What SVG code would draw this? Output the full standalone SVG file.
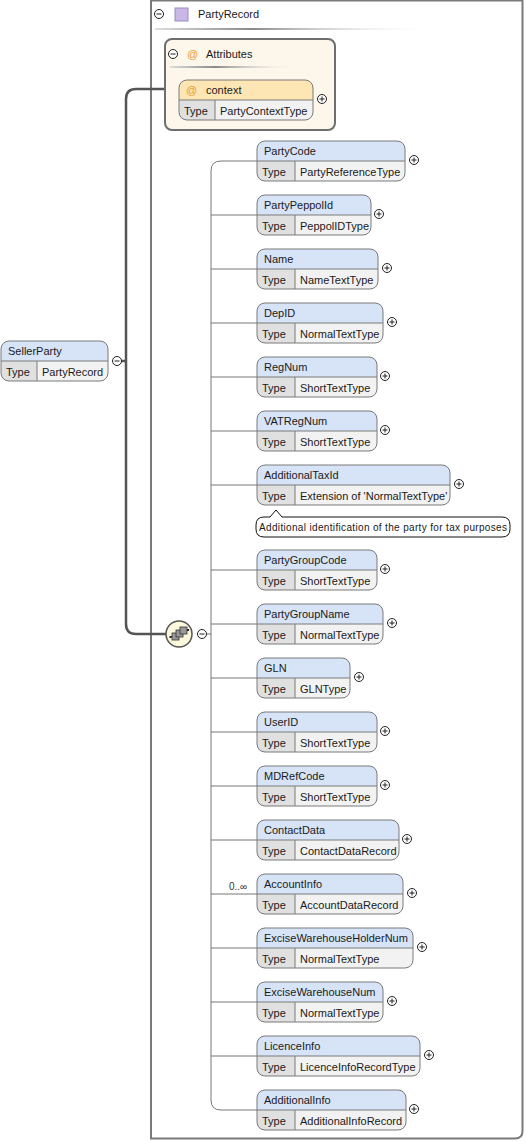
<svg xmlns="http://www.w3.org/2000/svg" width="526" height="1142" viewBox="0 0 526 1142">
<style>
text{font-family:"Liberation Sans",Arial,sans-serif;font-size:11px;fill:#1a1a1a}
.hdr{fill:#d7e4f8;stroke:none}
.trow{fill:#f2f2f2;stroke:none}
.tcell{fill:#e0e0e0;stroke:none}
.bord{fill:none;stroke:#7a7a7a;stroke-width:1}
.sep{stroke:#7a7a7a;stroke-width:1}
.conn{fill:none;stroke:#777;stroke-width:1}
.thick{fill:none;stroke:#555;stroke-width:2.5}
.ic{fill:#fff;stroke:#222;stroke-width:1}
.icl{stroke:#222;stroke-width:1}
.at{fill:#e89a2c}
</style>
<defs>
<linearGradient id="g1" x1="0" y1="0" x2="1" y2="0">
<stop offset="0" stop-color="#ddd"/>
<stop offset="0.35" stop-color="#8a8a8a"/>
<stop offset="1" stop-color="#fff" stop-opacity="0"/>
</linearGradient>
<g id="plus"><circle class="ic" cx="0" cy="0" r="4.5"/><line class="icl" x1="-2.5" y1="0" x2="2.5" y2="0"/><line class="icl" x1="0" y1="-2.5" x2="0" y2="2.5"/></g>
<g id="minus"><circle class="ic" cx="0" cy="0" r="4.5"/><line class="icl" x1="-2.5" y1="0" x2="2.5" y2="0"/></g>
</defs>

<!-- outer PartyRecord box -->
<g id="PartyRecord">
<path d="M151,0.5 H522.5 V1131 Q522.5,1138.5 515,1138.5 H151 Z" fill="#fff" stroke="#7a7a7a" stroke-width="2"/>
<use href="#minus" x="159" y="14"/>
<rect x="175" y="8" width="13" height="13" fill="#c9b8e6" stroke="#9b8ac0" stroke-width="1"/>
<text x="198" y="18">PartyRecord</text>
<rect x="155" y="28" width="280" height="2" fill="url(#g1)"/>
</g>

<!-- connectors -->
<g id="connectors">
<line class="thick" x1="121" y1="361" x2="126" y2="361"/>
<path class="thick" d="M166,89 H136 Q126,89 126,99 V624 Q126,634 136,634 H166"/>
<line class="conn" x1="206.5" y1="634" x2="211" y2="634"/>
<path class="conn" d="M257,161 H221 Q211,161 211,171 V1100 Q211,1110 221,1110 H257"/>
<line class="conn" x1="211" y1="215" x2="257" y2="215"/>
<line class="conn" x1="211" y1="269" x2="257" y2="269"/>
<line class="conn" x1="211" y1="323" x2="257" y2="323"/>
<line class="conn" x1="211" y1="377" x2="257" y2="377"/>
<line class="conn" x1="211" y1="431" x2="257" y2="431"/>
<line class="conn" x1="211" y1="485" x2="257" y2="485"/>
<line class="conn" x1="211" y1="570" x2="257" y2="570"/>
<line class="conn" x1="211" y1="624" x2="257" y2="624"/>
<line class="conn" x1="211" y1="678" x2="257" y2="678"/>
<line class="conn" x1="211" y1="732" x2="257" y2="732"/>
<line class="conn" x1="211" y1="786" x2="257" y2="786"/>
<line class="conn" x1="211" y1="840" x2="257" y2="840"/>
<line class="conn" x1="211" y1="894" x2="257" y2="894"/>
<line class="conn" x1="211" y1="948" x2="257" y2="948"/>
<line class="conn" x1="211" y1="1002" x2="257" y2="1002"/>
<line class="conn" x1="211" y1="1056" x2="257" y2="1056"/>
</g>

<!-- SellerParty -->
<g id="SellerParty" transform="translate(1,341)">
<path class="hdr" d="M0,20 V8 Q0,0 8,0 H99 Q107,0 107,8 V20 Z"/>
<path class="trow" d="M0,20 H107 V32 Q107,40 99,40 H8 Q0,40 0,32 Z"/>
<path class="tcell" d="M0,20 H36 V40 H8 Q0,40 0,32 Z"/>
<rect class="bord" x="0" y="0" width="107" height="40" rx="8"/>
<line class="sep" x1="0" y1="20" x2="107" y2="20"/>
<line class="sep" x1="36" y1="20" x2="36" y2="40"/>
<text x="7" y="14">SellerParty</text>
<text x="5" y="35">Type</text>
<text x="41" y="35">PartyRecord</text>
<use href="#minus" x="116" y="20"/>
</g>

<!-- Attributes -->
<g id="Attributes">
<rect x="165" y="39" width="170" height="91" rx="7" fill="#fdf6ea" stroke="#6e6e6e" stroke-width="2"/>
<use href="#minus" x="173" y="54"/>
<text class="at" x="187" y="58">@</text>
<text x="206" y="58">Attributes</text>
<rect x="170" y="66" width="130" height="2" fill="url(#g1)"/>
</g>

<g id="context" transform="translate(179,80)">
<path d="M0,20 V8 Q0,0 8,0 H126 Q134,0 134,8 V20 Z" fill="#fde6b4"/>
<path class="trow" d="M0,20 H134 V32 Q134,40 126,40 H8 Q0,40 0,32 Z"/>
<path class="tcell" d="M0,20 H36 V40 H8 Q0,40 0,32 Z"/>
<rect class="bord" x="0" y="0" width="134" height="40" rx="8"/>
<line class="sep" x1="0" y1="20" x2="134" y2="20"/>
<line class="sep" x1="36" y1="20" x2="36" y2="40"/>
<text class="at" x="7" y="14">@</text>
<text x="27" y="14">context</text>
<text x="5" y="35">Type</text>
<text x="41" y="35">PartyContextType</text>
<use href="#plus" x="143" y="19"/>
</g>

<!-- sequence compositor -->
<g id="sequence">
<circle cx="179" cy="634" r="13" fill="#fbf8dc" stroke="#555" stroke-width="1.5"/>
<line x1="171" y1="637" x2="187" y2="630" stroke="#333" stroke-width="1"/>
<rect x="172" y="633" width="7" height="7" fill="#999" stroke="#333" stroke-width="0.8"/>
<rect x="176" y="630" width="7" height="7" fill="#999" stroke="#333" stroke-width="0.8"/>
<rect x="180" y="627" width="7" height="7" fill="#999" stroke="#333" stroke-width="0.8"/>
<rect x="169.5" y="636" width="2" height="2" fill="#222"/>
<rect x="187" y="629" width="2" height="2" fill="#222"/>
<use href="#minus" x="202" y="634"/>
</g>

<!-- elements -->
<g id="PartyCode" transform="translate(257,141)">
<path class="hdr" d="M0,20 V8 Q0,0 8,0 H140 Q148,0 148,8 V20 Z"/>
<path class="trow" d="M0,20 H148 V32 Q148,40 140,40 H8 Q0,40 0,32 Z"/>
<path class="tcell" d="M0,20 H38 V40 H8 Q0,40 0,32 Z"/>
<rect class="bord" x="0" y="0" width="148" height="40" rx="8"/>
<line class="sep" x1="0" y1="20" x2="148" y2="20"/>
<line class="sep" x1="38" y1="20" x2="38" y2="40"/>
<text x="7" y="14">PartyCode</text><text x="5" y="35">Type</text><text x="43" y="35">PartyReferenceType</text>
<use href="#plus" x="157" y="19"/>
</g>

<g id="PartyPeppolId" transform="translate(257,195)">
<path class="hdr" d="M0,20 V8 Q0,0 8,0 H106 Q114,0 114,8 V20 Z"/>
<path class="trow" d="M0,20 H114 V32 Q114,40 106,40 H8 Q0,40 0,32 Z"/>
<path class="tcell" d="M0,20 H38 V40 H8 Q0,40 0,32 Z"/>
<rect class="bord" x="0" y="0" width="114" height="40" rx="8"/>
<line class="sep" x1="0" y1="20" x2="114" y2="20"/>
<line class="sep" x1="38" y1="20" x2="38" y2="40"/>
<text x="7" y="14">PartyPeppolId</text><text x="5" y="35">Type</text><text x="43" y="35">PeppolIDType</text>
<use href="#plus" x="122" y="19"/>
</g>

<g id="Name" transform="translate(257,249)">
<path class="hdr" d="M0,20 V8 Q0,0 8,0 H113 Q121,0 121,8 V20 Z"/>
<path class="trow" d="M0,20 H121 V32 Q121,40 113,40 H8 Q0,40 0,32 Z"/>
<path class="tcell" d="M0,20 H38 V40 H8 Q0,40 0,32 Z"/>
<rect class="bord" x="0" y="0" width="121" height="40" rx="8"/>
<line class="sep" x1="0" y1="20" x2="121" y2="20"/>
<line class="sep" x1="38" y1="20" x2="38" y2="40"/>
<text x="7" y="14">Name</text><text x="5" y="35">Type</text><text x="43" y="35">NameTextType</text>
<use href="#plus" x="130" y="19"/>
</g>

<g id="DepID" transform="translate(257,303)">
<path class="hdr" d="M0,20 V8 Q0,0 8,0 H118 Q126,0 126,8 V20 Z"/>
<path class="trow" d="M0,20 H126 V32 Q126,40 118,40 H8 Q0,40 0,32 Z"/>
<path class="tcell" d="M0,20 H38 V40 H8 Q0,40 0,32 Z"/>
<rect class="bord" x="0" y="0" width="126" height="40" rx="8"/>
<line class="sep" x1="0" y1="20" x2="126" y2="20"/>
<line class="sep" x1="38" y1="20" x2="38" y2="40"/>
<text x="7" y="14">DepID</text><text x="5" y="35">Type</text><text x="43" y="35">NormalTextType</text>
<use href="#plus" x="135" y="19"/>
</g>

<g id="RegNum" transform="translate(257,357)">
<path class="hdr" d="M0,20 V8 Q0,0 8,0 H112 Q120,0 120,8 V20 Z"/>
<path class="trow" d="M0,20 H120 V32 Q120,40 112,40 H8 Q0,40 0,32 Z"/>
<path class="tcell" d="M0,20 H38 V40 H8 Q0,40 0,32 Z"/>
<rect class="bord" x="0" y="0" width="120" height="40" rx="8"/>
<line class="sep" x1="0" y1="20" x2="120" y2="20"/>
<line class="sep" x1="38" y1="20" x2="38" y2="40"/>
<text x="7" y="14">RegNum</text><text x="5" y="35">Type</text><text x="43" y="35">ShortTextType</text>
<use href="#plus" x="128" y="19"/>
</g>

<g id="VATRegNum" transform="translate(257,411)">
<path class="hdr" d="M0,20 V8 Q0,0 8,0 H112 Q120,0 120,8 V20 Z"/>
<path class="trow" d="M0,20 H120 V32 Q120,40 112,40 H8 Q0,40 0,32 Z"/>
<path class="tcell" d="M0,20 H38 V40 H8 Q0,40 0,32 Z"/>
<rect class="bord" x="0" y="0" width="120" height="40" rx="8"/>
<line class="sep" x1="0" y1="20" x2="120" y2="20"/>
<line class="sep" x1="38" y1="20" x2="38" y2="40"/>
<text x="7" y="14">VATRegNum</text><text x="5" y="35">Type</text><text x="43" y="35">ShortTextType</text>
<use href="#plus" x="128" y="19"/>
</g>

<g id="AdditionalTaxId" transform="translate(257,465)">
<path class="hdr" d="M0,20 V8 Q0,0 8,0 H185 Q193,0 193,8 V20 Z"/>
<path class="trow" d="M0,20 H193 V32 Q193,40 185,40 H8 Q0,40 0,32 Z"/>
<path class="tcell" d="M0,20 H38 V40 H8 Q0,40 0,32 Z"/>
<rect class="bord" x="0" y="0" width="193" height="40" rx="8"/>
<line class="sep" x1="0" y1="20" x2="193" y2="20"/>
<line class="sep" x1="38" y1="20" x2="38" y2="40"/>
<text x="7" y="14">AdditionalTaxId</text><text x="5" y="35">Type</text><text x="43" y="35">Extension of 'NormalTextType'</text>
<use href="#plus" x="202" y="19"/>
<path d="M7,52 H13 L19,45 L25,52 H245 Q253,52 253,60 V64 Q253,72 245,72 H7 Q-1,72 -1,64 V60 Q-1,52 7,52 Z" fill="#fff" stroke="#111" stroke-width="1"/>
<text x="2" y="66" style="font-size:10px" textLength="248" lengthAdjust="spacing">Additional identification of the party for tax purposes</text>
</g>

<g id="PartyGroupCode" transform="translate(257,550)">
<path class="hdr" d="M0,20 V8 Q0,0 8,0 H112 Q120,0 120,8 V20 Z"/>
<path class="trow" d="M0,20 H120 V32 Q120,40 112,40 H8 Q0,40 0,32 Z"/>
<path class="tcell" d="M0,20 H38 V40 H8 Q0,40 0,32 Z"/>
<rect class="bord" x="0" y="0" width="120" height="40" rx="8"/>
<line class="sep" x1="0" y1="20" x2="120" y2="20"/>
<line class="sep" x1="38" y1="20" x2="38" y2="40"/>
<text x="7" y="14">PartyGroupCode</text><text x="5" y="35">Type</text><text x="43" y="35">ShortTextType</text>
<use href="#plus" x="128" y="19"/>
</g>

<g id="PartyGroupName" transform="translate(257,604)">
<path class="hdr" d="M0,20 V8 Q0,0 8,0 H118 Q126,0 126,8 V20 Z"/>
<path class="trow" d="M0,20 H126 V32 Q126,40 118,40 H8 Q0,40 0,32 Z"/>
<path class="tcell" d="M0,20 H38 V40 H8 Q0,40 0,32 Z"/>
<rect class="bord" x="0" y="0" width="126" height="40" rx="8"/>
<line class="sep" x1="0" y1="20" x2="126" y2="20"/>
<line class="sep" x1="38" y1="20" x2="38" y2="40"/>
<text x="7" y="14">PartyGroupName</text><text x="5" y="35">Type</text><text x="43" y="35">NormalTextType</text>
<use href="#plus" x="135" y="19"/>
</g>

<g id="GLN" transform="translate(257,658)">
<path class="hdr" d="M0,20 V8 Q0,0 8,0 H85 Q93,0 93,8 V20 Z"/>
<path class="trow" d="M0,20 H93 V32 Q93,40 85,40 H8 Q0,40 0,32 Z"/>
<path class="tcell" d="M0,20 H38 V40 H8 Q0,40 0,32 Z"/>
<rect class="bord" x="0" y="0" width="93" height="40" rx="8"/>
<line class="sep" x1="0" y1="20" x2="93" y2="20"/>
<line class="sep" x1="38" y1="20" x2="38" y2="40"/>
<text x="7" y="14">GLN</text><text x="5" y="35">Type</text><text x="43" y="35">GLNType</text>
<use href="#plus" x="102" y="19"/>
</g>

<g id="UserID" transform="translate(257,712)">
<path class="hdr" d="M0,20 V8 Q0,0 8,0 H112 Q120,0 120,8 V20 Z"/>
<path class="trow" d="M0,20 H120 V32 Q120,40 112,40 H8 Q0,40 0,32 Z"/>
<path class="tcell" d="M0,20 H38 V40 H8 Q0,40 0,32 Z"/>
<rect class="bord" x="0" y="0" width="120" height="40" rx="8"/>
<line class="sep" x1="0" y1="20" x2="120" y2="20"/>
<line class="sep" x1="38" y1="20" x2="38" y2="40"/>
<text x="7" y="14">UserID</text><text x="5" y="35">Type</text><text x="43" y="35">ShortTextType</text>
<use href="#plus" x="128" y="19"/>
</g>

<g id="MDRefCode" transform="translate(257,766)">
<path class="hdr" d="M0,20 V8 Q0,0 8,0 H112 Q120,0 120,8 V20 Z"/>
<path class="trow" d="M0,20 H120 V32 Q120,40 112,40 H8 Q0,40 0,32 Z"/>
<path class="tcell" d="M0,20 H38 V40 H8 Q0,40 0,32 Z"/>
<rect class="bord" x="0" y="0" width="120" height="40" rx="8"/>
<line class="sep" x1="0" y1="20" x2="120" y2="20"/>
<line class="sep" x1="38" y1="20" x2="38" y2="40"/>
<text x="7" y="14">MDRefCode</text><text x="5" y="35">Type</text><text x="43" y="35">ShortTextType</text>
<use href="#plus" x="128" y="19"/>
</g>

<g id="ContactData" transform="translate(257,820)">
<path class="hdr" d="M0,20 V8 Q0,0 8,0 H134 Q142,0 142,8 V20 Z"/>
<path class="trow" d="M0,20 H142 V32 Q142,40 134,40 H8 Q0,40 0,32 Z"/>
<path class="tcell" d="M0,20 H38 V40 H8 Q0,40 0,32 Z"/>
<rect class="bord" x="0" y="0" width="142" height="40" rx="8"/>
<line class="sep" x1="0" y1="20" x2="142" y2="20"/>
<line class="sep" x1="38" y1="20" x2="38" y2="40"/>
<text x="7" y="14">ContactData</text><text x="5" y="35">Type</text><text x="43" y="35">ContactDataRecord</text>
<use href="#plus" x="150" y="19"/>
</g>

<g id="AccountInfo" transform="translate(257,874)">
<text x="-28" y="16" style="font-size:10px;fill:#333">0..∞</text>
<path class="hdr" d="M0,20 V8 Q0,0 8,0 H138 Q146,0 146,8 V20 Z"/>
<path class="trow" d="M0,20 H146 V32 Q146,40 138,40 H8 Q0,40 0,32 Z"/>
<path class="tcell" d="M0,20 H38 V40 H8 Q0,40 0,32 Z"/>
<rect class="bord" x="0" y="0" width="146" height="40" rx="8"/>
<line class="sep" x1="0" y1="20" x2="146" y2="20"/>
<line class="sep" x1="38" y1="20" x2="38" y2="40"/>
<text x="7" y="14">AccountInfo</text><text x="5" y="35">Type</text><text x="43" y="35">AccountDataRecord</text>
<use href="#plus" x="155" y="19"/>
</g>

<g id="ExciseWarehouseHolderNum" transform="translate(257,928)">
<path class="hdr" d="M0,20 V8 Q0,0 8,0 H148 Q156,0 156,8 V20 Z"/>
<path class="trow" d="M0,20 H156 V32 Q156,40 148,40 H8 Q0,40 0,32 Z"/>
<path class="tcell" d="M0,20 H38 V40 H8 Q0,40 0,32 Z"/>
<rect class="bord" x="0" y="0" width="156" height="40" rx="8"/>
<line class="sep" x1="0" y1="20" x2="156" y2="20"/>
<line class="sep" x1="38" y1="20" x2="38" y2="40"/>
<text x="7" y="14">ExciseWarehouseHolderNum</text><text x="5" y="35">Type</text><text x="43" y="35">NormalTextType</text>
<use href="#plus" x="165" y="19"/>
</g>

<g id="ExciseWarehouseNum" transform="translate(257,982)">
<path class="hdr" d="M0,20 V8 Q0,0 8,0 H118 Q126,0 126,8 V20 Z"/>
<path class="trow" d="M0,20 H126 V32 Q126,40 118,40 H8 Q0,40 0,32 Z"/>
<path class="tcell" d="M0,20 H38 V40 H8 Q0,40 0,32 Z"/>
<rect class="bord" x="0" y="0" width="126" height="40" rx="8"/>
<line class="sep" x1="0" y1="20" x2="126" y2="20"/>
<line class="sep" x1="38" y1="20" x2="38" y2="40"/>
<text x="7" y="14">ExciseWarehouseNum</text><text x="5" y="35">Type</text><text x="43" y="35">NormalTextType</text>
<use href="#plus" x="135" y="19"/>
</g>

<g id="LicenceInfo" transform="translate(257,1036)">
<path class="hdr" d="M0,20 V8 Q0,0 8,0 H155 Q163,0 163,8 V20 Z"/>
<path class="trow" d="M0,20 H163 V32 Q163,40 155,40 H8 Q0,40 0,32 Z"/>
<path class="tcell" d="M0,20 H38 V40 H8 Q0,40 0,32 Z"/>
<rect class="bord" x="0" y="0" width="163" height="40" rx="8"/>
<line class="sep" x1="0" y1="20" x2="163" y2="20"/>
<line class="sep" x1="38" y1="20" x2="38" y2="40"/>
<text x="7" y="14">LicenceInfo</text><text x="5" y="35">Type</text><text x="43" y="35">LicenceInfoRecordType</text>
<use href="#plus" x="172" y="19"/>
</g>

<g id="AdditionalInfo" transform="translate(257,1090)">
<path class="hdr" d="M0,20 V8 Q0,0 8,0 H141 Q149,0 149,8 V20 Z"/>
<path class="trow" d="M0,20 H149 V32 Q149,40 141,40 H8 Q0,40 0,32 Z"/>
<path class="tcell" d="M0,20 H38 V40 H8 Q0,40 0,32 Z"/>
<rect class="bord" x="0" y="0" width="149" height="40" rx="8"/>
<line class="sep" x1="0" y1="20" x2="149" y2="20"/>
<line class="sep" x1="38" y1="20" x2="38" y2="40"/>
<text x="7" y="14">AdditionalInfo</text><text x="5" y="35">Type</text><text x="43" y="35">AdditionalInfoRecord</text>
<use href="#plus" x="157" y="19"/>
</g>
</svg>
